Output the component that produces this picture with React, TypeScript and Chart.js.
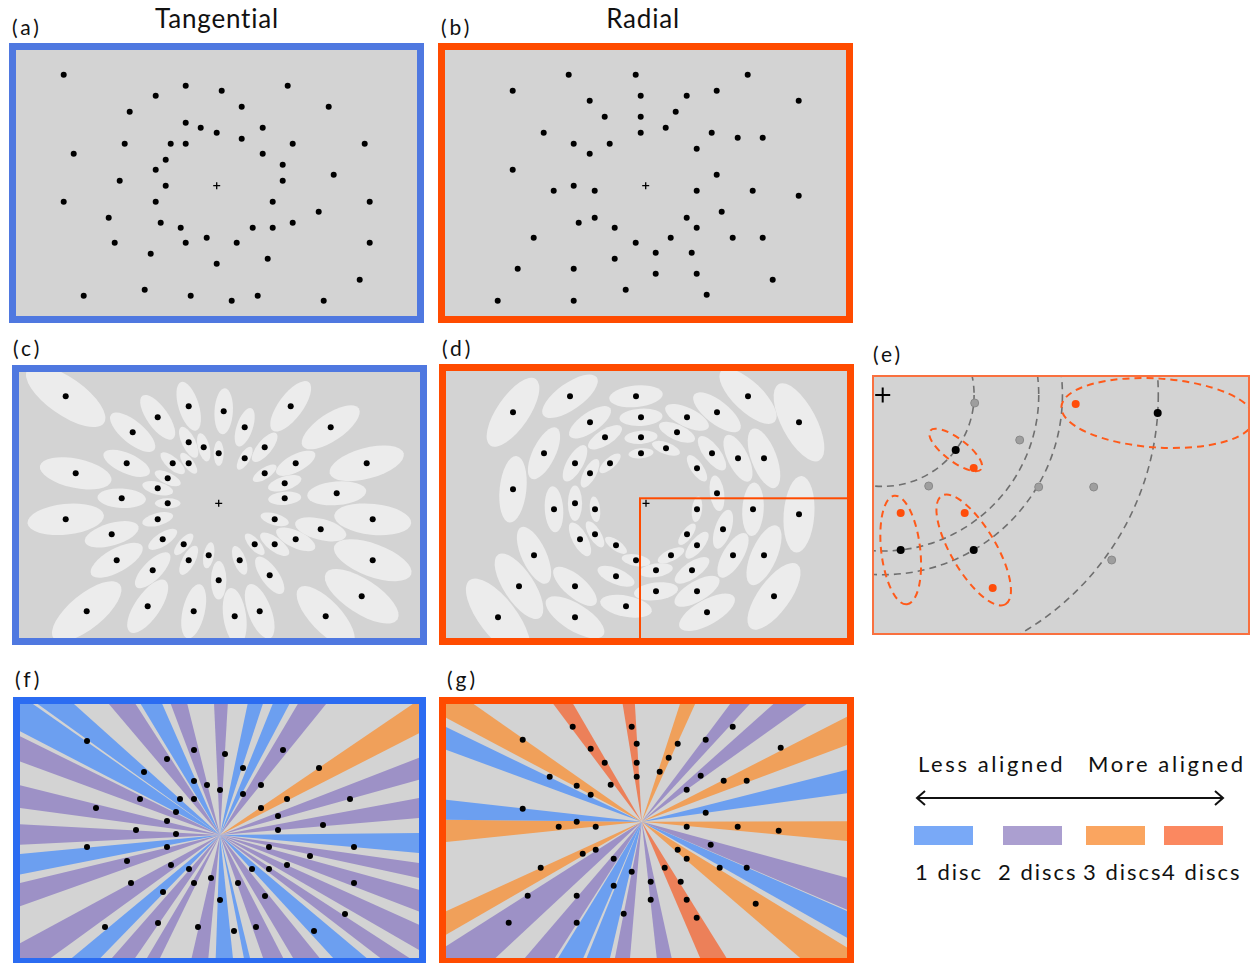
import React, { useEffect, useRef } from "react";
import { Chart, registerables } from "chart.js";

Chart.register(...registerables);

type Pt = [number, number];
type Wedge = [number, number, number]; // start angle, end angle (deg, clockwise from +x), discs aligned

// ---------- DATA (dot offsets from the fixation cross, px, y downwards) ----------
const TANGENTIAL_A: Pt[] = [
  [-153, -111], [-31, -100], [5, -95], [71, -100], [-61, -90], [25, -79], [112, -79], [-87, -74],
  [-31, -63], [-16, -58], [0, -53], [46, -58], [25, -47], [-92, -42], [-46, -42], [-31, -42],
  [76, -42], [148, -42], [-143, -32], [46, -32], [-51, -26], [66, -21], [-61, -16], [117, -11],
  [-97, -5], [66, -5], [-51, 0], [-153, 16], [-61, 16], [56, 16], [153, 16], [102, 26],
  [-108, 32], [-56, 37], [76, 37], [-36, 42], [36, 42], [56, 42], [-102, 57], [-31, 57],
  [-10, 52], [20, 57], [153, 57], [-66, 68], [51, 73], [0, 78], [143, 94], [-133, 110],
  [-72, 104], [-26, 110], [15, 115], [41, 110], [107, 115],
];

const RADIAL_B: Pt[] = [
  [-77, -111], [-10, -111], [102, -111], [-133, -95], [71, -95], [-56, -85], [-5, -90], [41, -90],
  [153, -85], [-41, -69], [-5, -69], [30, -74], [-102, -53], [-5, -53], [20, -58], [66, -53],
  [92, -48], [117, -48], [-72, -42], [-36, -42], [-56, -32], [51, -37], [-133, -16], [71, -11],
  [-92, 5], [-72, 0], [-51, 5], [51, 5], [107, 5], [153, 10], [76, 26], [-67, 37],
  [-51, 32], [41, 32], [-31, 42], [51, 42], [-112, 52], [-10, 57], [25, 52], [87, 52],
  [117, 52], [10, 67], [46, 67], [-31, 73], [-128, 83], [-72, 83], [10, 88], [51, 88],
  [127, 94], [-20, 104], [61, 109], [-148, 115], [-72, 115],
];

const TANGENTIAL_C: Pt[] = [
  [-153, -107], [-30, -97], [5, -92], [72, -97], [-61, -86], [26, -76], [112, -76], [-86, -71],
  [-30, -61], [-15, -56], [0, -50], [46, -56], [26, -45], [-92, -40], [-46, -40], [-30, -40],
  [77, -40], [148, -40], [-143, -30], [46, -30], [-51, -25], [66, -20], [-61, -15], [118, -10],
  [-97, -5], [66, -5], [-51, 0], [-153, 16], [-61, 16], [56, 16], [154, 16], [102, 26],
  [-107, 31], [-56, 36], [77, 36], [-35, 41], [36, 41], [56, 41], [-102, 57], [-30, 57],
  [-10, 52], [21, 57], [154, 57], [-66, 67], [51, 72], [0, 77], [143, 93], [-132, 108],
  [-71, 103], [-25, 108], [16, 113], [41, 108], [107, 113],
];

const RADIAL_D: Pt[] = [
  [-76, -107], [-10, -107], [102, -107], [-133, -91], [71, -91], [-56, -81], [-5, -86], [41, -86],
  [153, -81], [-41, -66], [-5, -66], [31, -71], [-102, -50], [-5, -50], [20, -55], [66, -50],
  [92, -45], [118, -45], [-71, -40], [-36, -40], [-56, -30], [51, -35], [-133, -14], [71, -10],
  [-92, 6], [-71, 0], [-51, 6], [51, 6], [107, 6], [153, 11], [77, 26], [-66, 36],
  [-51, 31], [41, 31], [-30, 42], [51, 42], [-112, 52], [-10, 57], [25, 52], [87, 52],
  [118, 52], [10, 67], [46, 67], [-30, 73], [-127, 83], [-71, 83], [10, 88], [51, 88],
  [128, 93], [-20, 103], [61, 109], [-148, 114], [-71, 114],
];

const E_TARGETS: Pt[] = [[73, 55], [275, 18], [18, 155], [91, 155]];
const E_FLANKERS: Pt[] = [[193, 9], [91, 73], [18, 118], [82, 118], [110, 193]];
const E_OTHERS: Pt[] = [[92, 8], [137, 45], [46, 91], [156, 92], [211, 92], [229, 165]];
const E_ZOOM_CORNER: Pt = [-6, -5];

const TANGENTIAL_F: Pt[] = [
  [-133, -94], [-26, -85], [5, -81], [63, -85], [-53, -76], [23, -67], [99, -67], [-76, -63],
  [-26, -54], [-13, -50], [0, -45], [41, -50], [23, -41], [-80, -36], [-40, -36], [-26, -36],
  [67, -36], [130, -36], [-124, -27], [41, -27], [-44, -23], [58, -19], [-53, -14], [103, -10],
  [-84, -5], [58, -5], [-44, -1], [-133, 12], [-53, 12], [49, 12], [134, 12], [90, 21],
  [-93, 26], [-49, 30], [67, 30], [-31, 34], [32, 34], [49, 34], [-89, 48], [-26, 48],
  [-9, 43], [18, 48], [134, 48], [-57, 57], [45, 61], [0, 65], [125, 79], [-115, 92],
  [-62, 88], [-22, 92], [14, 96], [36, 92], [94, 96],
];

const RADIAL_G: Pt[] = [
  [-69, -95], [-10, -95], [91, -95], [-119, -82], [-5, -78], [36, -78], [64, -82], [139, -74],
  [-51, -73], [27, -64], [-37, -59], [-5, -59], [18, -50], [-92, -45], [-5, -45], [59, -46],
  [82, -41], [105, -41], [-31, -37], [-65, -36], [-51, -27], [45, -32], [-119, -13], [64, -9],
  [-83, 5], [-65, 0], [-46, 5], [45, 5], [96, 5], [137, 9], [69, 23], [-59, 32],
  [-46, 28], [36, 28], [-28, 37], [45, 37], [-101, 46], [-10, 50], [23, 46], [78, 46],
  [105, 46], [9, 60], [39, 60], [-28, 64], [-114, 74], [-65, 74], [9, 78], [45, 78],
  [114, 82], [-18, 92], [55, 96], [-133, 101], [-65, 101],
];

const WEDGES_F: Wedge[] = [
  [-152.6, -145.0, 1], [-144.3, -138.1, 1], [-130.3, -122.8, 2], [-121.2, -113.8, 1],
  [-110.6, -104.0, 2], [-92.6, -86.6, 2], [-78.1, -71.9, 1], [-68.1, -62.1, 1],
  [-59.3, -51.0, 2], [-34.2, -27.1, 3], [-21.2, -15.5, 2], [-10.5, -4.9, 2],
  [-0.6, 5.2, 1], [8.0, 12.2, 2], [15.4, 21.0, 2], [24.3, 30.0, 2], [33.0, 37.5, 2],
  [40.0, 47.4, 1], [51.0, 59.3, 2], [62.8, 70.7, 2], [76.3, 79.0, 1], [84.0, 92.0, 1],
  [95.4, 103.0, 2], [116.0, 120.7, 2], [124.6, 131.3, 2], [134.2, 140.3, 1],
  [144.0, 151.6, 2], [160.4, 166.5, 2], [168.8, 174.6, 1], [177.2, 183.1, 2],
  [187.7, 194.0, 2], [200.2, 206.3, 2],
];

const WEDGES_G: Wedge[] = [
  [-159.8, -154.2, 1], [-152.0, -145.0, 3], [-126.9, -120.2, 4], [-99.2, -93.3, 4],
  [-72.0, -65.6, 3], [-53.1, -47.4, 2], [-41.8, -35.5, 2], [-27.1, -20.5, 3],
  [-14.2, -7.9, 1], [-0.1, 5.4, 3], [15.3, 23.2, 2], [23.5, 29.5, 1], [31.5, 40.7, 3],
  [58.1, 66.8, 4], [77.6, 83.7, 2], [94.9, 101.1, 2], [103.1, 112.0, 1],
  [113.2, 121.5, 1], [122.5, 130.6, 2], [137.0, 147.5, 2], [150.0, 155.4, 3],
  [174.1, 180.6, 3], [180.6, 186.4, 1],
];

const LEGEND_LABELS = ["1 disc", "2 discs", "3 discs", "4 discs"];
const AXIS_LABELS = ["Less aligned", "More aligned"];
const TITLES = ["Tangential", "Radial"];
const PANEL_LETTERS = ["(a)", "(b)", "(c)", "(d)", "(e)", "(f)", "(g)"];

// ---------- STYLE ----------
const BG = "#d3d3d3";
const ZONE_FILL = "#ececec";
const FRAME_BLUE = "#4f78e0";
const FRAME_BLUE_BRIGHT = "#2b6cf2";
const FRAME_ORANGE = "#ff4b00";
const FRAME_E = "#f9703f";
const WEDGE_COLORS = ["#6c9ff0", "#9d91c6", "#f0a05a", "#ec8059"];
const LEGEND_COLORS = ["#79a9f7", "#ab9fd0", "#faa560", "#fb8860"];
const FONT = "Lato, 'Open Sans', sans-serif";

type Box = { left: number; top: number; width: number; height: number; border: number; color: string; cx: number; cy: number };

const BOX_A: Box = { left: 9, top: 43, width: 415, height: 280, border: 7, color: FRAME_BLUE, cx: 216.7, cy: 185.7 };
const BOX_B: Box = { left: 438, top: 43, width: 415, height: 280, border: 7, color: FRAME_ORANGE, cx: 645.7, cy: 185.7 };
const BOX_C: Box = { left: 12, top: 365, width: 415, height: 280, border: 7, color: FRAME_BLUE, cx: 218.7, cy: 503.3 };
const BOX_D: Box = { left: 439, top: 364, width: 415, height: 281, border: 7, color: FRAME_ORANGE, cx: 646, cy: 503.3 };
const BOX_E: Box = { left: 872, top: 375, width: 378, height: 260, border: 2, color: FRAME_E, cx: 882.7, cy: 395 };
const BOX_F: Box = { left: 13, top: 697, width: 413, height: 268, border: 7, color: FRAME_BLUE_BRIGHT, cx: 220, cy: 835 };
const BOX_G: Box = { left: 439, top: 697, width: 415, height: 268, border: 7, color: FRAME_ORANGE, cx: 641.7, cy: 821.7 };

type DotSet = { points: Pt[]; fill: string; radius: number; stroke?: string };
type Hook = (ctx: CanvasRenderingContext2D, chart: any) => void;

function toPx(chart: any, x: number, y: number): [number, number] {
  return [chart.scales.x.getPixelForValue(x), chart.scales.y.getPixelForValue(y)];
}

function drawCross(ctx: CanvasRenderingContext2D, chart: any, half: number, width: number) {
  const [ox, oy] = toPx(chart, 0, 0);
  ctx.strokeStyle = "#000";
  ctx.lineWidth = width;
  ctx.beginPath();
  ctx.moveTo(ox - half, oy);
  ctx.lineTo(ox + half, oy);
  ctx.moveTo(ox, oy - half);
  ctx.lineTo(ox, oy + half);
  ctx.stroke();
}

function drawZones(pts: Pt[], radial: boolean): Hook {
  return (ctx, chart) => {
    const [ox, oy] = toPx(chart, 0, 0);
    ctx.fillStyle = ZONE_FILL;
    for (const [x, y] of pts) {
      const [px, py] = toPx(chart, x, y);
      const dx = px - ox, dy = py - oy;
      const r = Math.hypot(dx, dy);
      const ang = Math.atan2(dy, dx);
      ctx.beginPath();
      ctx.ellipse(px, py, 0.25 * r, 0.1 * r, radial ? ang : ang + Math.PI / 2, 0, Math.PI * 2);
      ctx.fill();
    }
  };
}

function drawWedges(wedges: Wedge[]): Hook {
  return (ctx, chart) => {
    const [ox, oy] = toPx(chart, 0, 0);
    for (const [a0, a1, n] of wedges) {
      ctx.fillStyle = WEDGE_COLORS[n - 1];
      ctx.beginPath();
      ctx.moveTo(ox, oy);
      ctx.arc(ox, oy, 1200, (a0 * Math.PI) / 180, (a1 * Math.PI) / 180);
      ctx.closePath();
      ctx.fill();
    }
  };
}

const drawEUnder: Hook = (ctx, chart) => {
  const [ox, oy] = toPx(chart, 0, 0);
  ctx.setLineDash([7, 5]);
  ctx.strokeStyle = "#6f6f6f";
  ctx.lineWidth = 1.6;
  for (const [x, y] of E_TARGETS) {
    const [px, py] = toPx(chart, x, y);
    const r = Math.hypot(px - ox, py - oy);
    ctx.beginPath();
    ctx.arc(ox, oy, r, 0, Math.PI * 2);
    ctx.stroke();
  }
  ctx.strokeStyle = "#ff5a1a";
  ctx.lineWidth = 2;
  for (const [x, y] of E_TARGETS) {
    const [px, py] = toPx(chart, x, y);
    const dx = px - ox, dy = py - oy;
    const r = Math.hypot(dx, dy);
    ctx.beginPath();
    ctx.ellipse(px, py, 0.35 * r, 0.125 * r, Math.atan2(dy, dx), 0, Math.PI * 2);
    ctx.stroke();
  }
  ctx.setLineDash([]);
};

const drawDRect: Hook = (ctx, chart) => {
  const [x0, y0] = toPx(chart, E_ZOOM_CORNER[0], E_ZOOM_CORNER[1]);
  const a = chart.chartArea;
  ctx.strokeStyle = FRAME_ORANGE;
  ctx.lineWidth = 2;
  ctx.strokeRect(x0, y0, a.right - x0 + 4, a.bottom - y0 + 4);
};

function Panel({ box, dots, under, over }: { box: Box; dots: DotSet[]; under?: Hook; over?: Hook }) {
  const ref = useRef<HTMLCanvasElement>(null);
  const iw = box.width - 2 * box.border;
  const ih = box.height - 2 * box.border;
  useEffect(() => {
    const il = box.left + box.border;
    const it = box.top + box.border;
    const decor = {
      id: "decor",
      beforeDatasetsDraw(chart: any) {
        const { ctx, chartArea: a } = chart;
        ctx.save();
        ctx.fillStyle = BG;
        ctx.fillRect(a.left, a.top, a.right - a.left, a.bottom - a.top);
        ctx.beginPath();
        ctx.rect(a.left, a.top, a.right - a.left, a.bottom - a.top);
        ctx.clip();
        if (under) under(ctx, chart);
        ctx.restore();
      },
      afterDatasetsDraw(chart: any) {
        const { ctx, chartArea: a } = chart;
        ctx.save();
        ctx.beginPath();
        ctx.rect(a.left, a.top, a.right - a.left, a.bottom - a.top);
        ctx.clip();
        if (over) over(ctx, chart);
        ctx.restore();
      },
    };
    const chart = new Chart(ref.current as HTMLCanvasElement, {
      type: "scatter",
      data: {
        datasets: dots.map((d) => ({
          data: d.points.map(([x, y]) => ({ x, y })),
          backgroundColor: d.fill,
          borderColor: d.stroke || d.fill,
          borderWidth: d.stroke ? 1 : 0,
          pointRadius: d.radius,
          pointHoverRadius: d.radius,
        })),
      },
      options: {
        responsive: false,
        animation: false,
        events: [],
        layout: { padding: 0, autoPadding: false },
        plugins: { legend: { display: false }, tooltip: { enabled: false } },
        scales: {
          x: { type: "linear", display: false, min: il - box.cx, max: il + iw - box.cx },
          y: { type: "linear", display: false, reverse: true, min: it - box.cy, max: it + ih - box.cy },
        },
      } as any,
      plugins: [decor as any],
    });
    return () => chart.destroy();
  }, []);
  return (
    <div
      style={{
        position: "absolute",
        left: box.left,
        top: box.top,
        width: box.width,
        height: box.height,
        boxSizing: "border-box",
        border: `${box.border}px solid ${box.color}`,
      }}
    >
      <canvas ref={ref} width={iw} height={ih} style={{ display: "block", width: iw, height: ih }} />
    </div>
  );
}

const LETTER_POS: [number, number][] = [
  [12, 16], [441, 16], [13, 337], [442, 337], [873, 343], [15, 668], [447, 668],
];

function Text({ x, y, size, children, center, spacing }: { x: number; y: number; size: number; children: React.ReactNode; center?: boolean; spacing?: number }) {
  return (
    <div
      style={{
        position: "absolute",
        left: x,
        top: y,
        fontSize: size,
        lineHeight: 1,
        whiteSpace: "nowrap",
        letterSpacing: spacing ?? 0,
        transform: center ? "translateX(-50%)" : undefined,
        color: "#111",
      }}
    >
      {children}
    </div>
  );
}

export default function App() {
  const black = (points: Pt[]): DotSet[] => [{ points, fill: "#000", radius: 3 }];
  const crossA: Hook = (ctx, chart) => drawCross(ctx, chart, 3.5, 1.3);
  const swatchLefts = [914, 1003, 1086, 1164];
  const labelLefts = [915, 998, 1083, 1162];
  return (
    <div
      style={{
        position: "absolute",
        left: 0,
        top: 0,
        width: 1254,
        height: 963,
        overflow: "hidden",
        background: "#fff",
        fontFamily: FONT,
      }}
    >
      {PANEL_LETTERS.map((t, i) => (
        <Text key={t} x={LETTER_POS[i][0]} y={LETTER_POS[i][1]} size={21} spacing={3}>
          {t}
        </Text>
      ))}
      <Text x={217} y={5} size={26} center spacing={0.8}>{TITLES[0]}</Text>
      <Text x={643} y={5} size={26} center spacing={0.8}>{TITLES[1]}</Text>

      <Panel box={BOX_A} dots={black(TANGENTIAL_A)} over={crossA} />
      <Panel box={BOX_B} dots={black(RADIAL_B)} over={crossA} />
      <Panel box={BOX_C} dots={black(TANGENTIAL_C)} under={drawZones(TANGENTIAL_C, true)} over={crossA} />
      <Panel
        box={BOX_D}
        dots={black(RADIAL_D)}
        under={drawZones(RADIAL_D, false)}
        over={(ctx, chart) => {
          crossA(ctx, chart);
          drawDRect(ctx, chart);
        }}
      />
      <Panel
        box={BOX_E}
        dots={[
          { points: E_OTHERS, fill: "#9e9e9e", radius: 4, stroke: "#8a8a8a" },
          { points: E_FLANKERS, fill: "#ff4d0a", radius: 4 },
          { points: E_TARGETS, fill: "#000", radius: 4 },
        ]}
        under={drawEUnder}
        over={(ctx, chart) => drawCross(ctx, chart, 7.5, 2)}
      />
      <Panel box={BOX_F} dots={black(TANGENTIAL_F)} under={drawWedges(WEDGES_F)} />
      <Panel box={BOX_G} dots={black(RADIAL_G)} under={drawWedges(WEDGES_G)} />

      <Text x={918} y={753} size={22} spacing={2.6}>{AXIS_LABELS[0]}</Text>
      <Text x={1088} y={753} size={22} spacing={2.6}>{AXIS_LABELS[1]}</Text>
      <svg style={{ position: "absolute", left: 910, top: 788, overflow: "visible" }} width={320} height={20}>
        <line x1={7} y1={10} x2={313} y2={10} stroke="#111" strokeWidth={2} />
        <polyline points="15,3 7,10 15,17" fill="none" stroke="#111" strokeWidth={2} />
        <polyline points="305,3 313,10 305,17" fill="none" stroke="#111" strokeWidth={2} />
      </svg>
      {LEGEND_COLORS.map((c, i) => (
        <div
          key={c}
          style={{ position: "absolute", left: swatchLefts[i], top: 826, width: 59, height: 19, background: c }}
        />
      ))}
      {LEGEND_LABELS.map((t, i) => (
        <Text key={t} x={labelLefts[i]} y={861} size={22} spacing={2}>
          {t}
        </Text>
      ))}
    </div>
  );
}
